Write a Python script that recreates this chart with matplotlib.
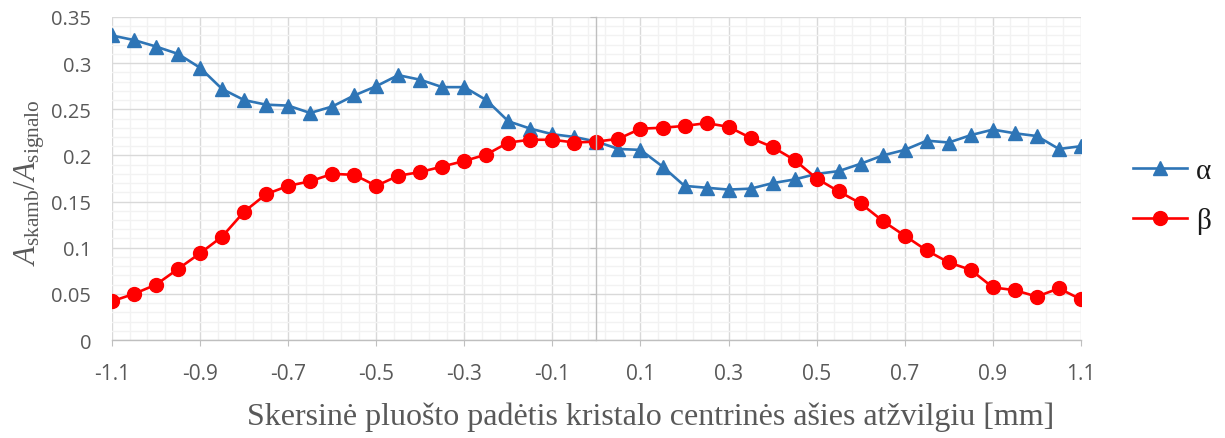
import matplotlib.pyplot as plt
import numpy as np
from matplotlib.ticker import FixedLocator, MultipleLocator, FuncFormatter

positions = [-1.1, -1.05, -1.0, -0.95, -0.9, -0.85, -0.8, -0.75, -0.7, -0.65,
             -0.6, -0.55, -0.5, -0.45, -0.4, -0.35, -0.3, -0.25, -0.2, -0.15,
             -0.1, -0.05, 0.0, 0.05, 0.1, 0.15, 0.2, 0.25, 0.3, 0.35,
             0.4, 0.45, 0.5, 0.55, 0.6, 0.65, 0.7, 0.75, 0.8, 0.85,
             0.9, 0.95, 1.0, 1.05, 1.1]

alpha = [0.330, 0.325, 0.318, 0.310, 0.295, 0.272, 0.260, 0.255, 0.254, 0.246,
         0.253, 0.265, 0.275, 0.287, 0.282, 0.274, 0.274, 0.260, 0.237, 0.229,
         0.223, 0.220, 0.215, 0.207, 0.206, 0.188, 0.167, 0.165, 0.163, 0.164,
         0.170, 0.174, 0.180, 0.183, 0.191, 0.200, 0.206, 0.216, 0.214, 0.222,
         0.228, 0.224, 0.221, 0.207, 0.210]

beta = [0.042, 0.050, 0.060, 0.077, 0.094, 0.112, 0.139, 0.158, 0.167, 0.172,
        0.180, 0.179, 0.167, 0.178, 0.182, 0.188, 0.194, 0.201, 0.214, 0.217,
        0.217, 0.214, 0.215, 0.218, 0.229, 0.230, 0.232, 0.235, 0.231, 0.219,
        0.209, 0.195, 0.175, 0.161, 0.148, 0.129, 0.113, 0.097, 0.084, 0.076,
        0.057, 0.054, 0.047, 0.056, 0.044]

x_major = [-1.1, -0.9, -0.7, -0.5, -0.3, -0.1, 0.1, 0.3, 0.5, 0.7, 0.9, 1.1]
x_labels = ['-1.1', '-0.9', '-0.7', '-0.5', '-0.3', '-0.1', '0.1', '0.3', '0.5', '0.7', '0.9', '1.1']

plt.rcParams['mathtext.fontset'] = 'custom'
plt.rcParams['mathtext.rm'] = 'Liberation Serif'
plt.rcParams['mathtext.it'] = 'Liberation Serif:italic'

fig = plt.figure(figsize=(12.25, 4.39), dpi=100)
ax = fig.add_axes([0.0914, 0.2232, 0.7910, 0.7358])

ax.plot(positions, alpha, '-', color='#2E75B6', linewidth=1.9,
        marker='^', markersize=10, label='α')
ax.plot(positions, beta, '-', color='#FF0000', linewidth=1.9,
        marker='o', markersize=10, label='β')

ax.set_xlim(-1.1, 1.1)
ax.set_ylim(0, 0.35)

ax.xaxis.set_major_locator(FixedLocator(x_major))
ax.set_xticklabels(x_labels)
ax.xaxis.set_minor_locator(FixedLocator(np.arange(-1.1, 1.1001, 0.04)))
ax.yaxis.set_major_locator(MultipleLocator(0.05))
ax.yaxis.set_minor_locator(MultipleLocator(0.01))

ax.grid(which='minor', color='#F2F2F2', linewidth=1.0)
ax.grid(which='major', color='#D9D9D9', linewidth=1.0)
ax.set_axisbelow(True)

for s in ['top', 'right']:
    ax.spines[s].set_visible(False)
ax.spines['bottom'].set_color('#BFBFBF')
ax.spines['bottom'].set_linewidth(1.0)
ax.spines['left'].set_position(('data', 0))
ax.spines['left'].set_color('#BFBFBF')
ax.spines['left'].set_linewidth(1.0)

ax.tick_params(axis='x', which='major', direction='out', length=4.5, color='#BFBFBF',
               labelsize=15, labelcolor='#595959', pad=12)
ax.tick_params(axis='y', which='major', direction='out', length=4, color='#BFBFBF',
               labelleft=False)
ax.tick_params(which='minor', length=0)
for lab in ax.get_xticklabels():
    lab.set_family('Open Sans')

sec = ax.secondary_yaxis(0.0)
sec.yaxis.set_major_locator(MultipleLocator(0.05))
sec.yaxis.set_major_formatter(FuncFormatter(lambda v, p: '0' if abs(v) < 1e-9 else ('%.2f' % v).rstrip('0')))
sec.spines['left'].set_visible(False)
sec.tick_params(axis='y', length=0, labelsize=14.5, labelcolor='#595959', pad=15)
for lab in sec.get_yticklabels():
    lab.set_family('Open Sans')

fig.text(0.024, 0.585, r'$A_{\mathrm{skamb}}/A_{\mathrm{signalo}}$', rotation=90,
         ha='center', va='center', fontsize=22, color='#595959')
fig.text(0.531, 0.05, 'Skersinė pluošto padėtis kristalo centrinės ašies atžvilgiu [mm]',
         ha='center', va='center', fontsize=23, color='#595959', family='Liberation Serif')

leg = fig.legend(loc='center left', bbox_to_anchor=(0.925, 0.552), frameon=False,
                 borderpad=0, borderaxespad=0, prop={'family': 'Liberation Serif', 'size': 21},
                 handlelength=1.85, labelspacing=0.8, handletextpad=0.3,
                 labelcolor='#1a1a1a')

fig.savefig('out.png', dpi=100)
